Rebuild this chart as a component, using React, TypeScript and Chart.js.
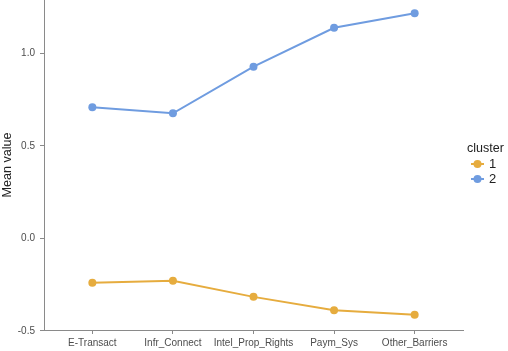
import React, { useEffect, useRef } from "react";
import { Chart, registerables } from "chart.js";

Chart.register(...registerables);

const categories = ["E-Transact", "Infr_Connect", "Intel_Prop_Rights", "Paym_Sys", "Other_Barriers"];
const cluster1 = [-0.24, -0.229, -0.316, -0.388, -0.413];
const cluster2 = [0.708, 0.676, 0.928, 1.138, 1.216];
const yTicks = [-0.5, 0.0, 0.5, 1.0];
const yTickLabels = ["-0.5", "0.0", "0.5", "1.0"];
const seriesNames = ["1", "2"];
const colors = ["#E6AC3E", "#6F9CE0"];

const FONT = "'Liberation Sans', Arial, sans-serif";

const legendPlugin = {
  id: "customLegend",
  afterDraw(chart: any) {
    const ctx = chart.ctx;
    ctx.save();
    ctx.font = `12.5px ${FONT}`;
    ctx.fillStyle = "#222";
    ctx.textBaseline = "middle";
    ctx.textAlign = "left";
    ctx.fillText("cluster", 467, 149);
    seriesNames.forEach((name, i) => {
      const y = 164 + i * 15;
      ctx.strokeStyle = colors[i];
      ctx.lineWidth = 2;
      ctx.beginPath();
      ctx.moveTo(471, y);
      ctx.lineTo(484, y);
      ctx.stroke();
      ctx.fillStyle = colors[i];
      ctx.beginPath();
      ctx.arc(477.5, y, 4, 0, Math.PI * 2);
      ctx.fill();
      ctx.fillStyle = "#222";
      ctx.font = `13px ${FONT}`;
      ctx.fillText(name, 489, y);
    });
    ctx.restore();
  },
};

export default function App() {
  const ref = useRef<HTMLCanvasElement | null>(null);
  useEffect(() => {
    if (!ref.current) return;
    const makeData = (vals: number[]) => vals.map((v, i) => ({ x: i, y: v }));
    const chart = new Chart(ref.current, {
      type: "line",
      data: {
        datasets: [cluster1, cluster2].map((vals, i) => ({
          label: seriesNames[i],
          data: makeData(vals),
          borderColor: colors[i],
          backgroundColor: colors[i],
          pointBackgroundColor: colors[i],
          pointBorderColor: colors[i],
          pointRadius: 4,
          pointBorderWidth: 0,
          borderWidth: 2,
          tension: 0,
          fill: false,
        })),
      },
      plugins: [legendPlugin],
      options: {
        animation: false,
        responsive: false,
        maintainAspectRatio: false,
        layout: { autoPadding: false, padding: { top: 0, right: 45, bottom: 0, left: 0 } },
        plugins: {
          legend: { display: false },
          tooltip: { enabled: false },
        },
        scales: {
          x: {
            type: "linear",
            min: -0.6,
            max: 4.6,
            afterBuildTicks: (scale: any) => {
              scale.ticks = categories.map((_, i) => ({ value: i }));
            },
            afterFit: (scale: any) => {
              scale.height = 21;
              scale.paddingLeft = 0;
              scale.paddingRight = 0;
            },
            ticks: {
              autoSkip: false,
              maxRotation: 0,
              padding: 3,
              color: "#4D4D4D",
              font: { family: FONT, size: 10 },
              callback: (v: any) => categories[Math.round(Number(v))] ?? "",
            },
            grid: { drawOnChartArea: false, drawTicks: true, tickLength: 4, color: "#8a8a8a" },
            border: { display: true, color: "#8a8a8a", width: 1 },
          },
          y: {
            type: "linear",
            min: -0.495,
            max: 1.288,
            afterBuildTicks: (scale: any) => {
              scale.ticks = yTicks.map((v) => ({ value: v }));
            },
            afterFit: (scale: any) => {
              scale.width = 44;
              scale.paddingTop = 0;
              scale.paddingBottom = 0;
            },
            ticks: {
              padding: 5,
              color: "#4D4D4D",
              font: { family: FONT, size: 10 },
              callback: (v: any) => {
                const idx = yTicks.findIndex((t) => Math.abs(t - Number(v)) < 1e-6);
                return idx >= 0 ? yTickLabels[idx] : "";
              },
            },
            title: {
              display: true,
              text: "Mean value",
              color: "#222",
              padding: 0,
              font: { family: FONT, size: 12.6, lineHeight: 1.2 },
            },
            grid: { drawOnChartArea: false, drawTicks: true, tickLength: 4, color: "#8a8a8a" },
            border: { display: true, color: "#8a8a8a", width: 1 },
          },
        },
      },
    } as any);
    return () => chart.destroy();
  }, []);
  return (
    <div style={{ position: "absolute", left: 0, top: 0, width: 508, height: 351, background: "#fff" }}>
      <canvas ref={ref} width={508} height={351} style={{ width: 508, height: 351 }} />
    </div>
  );
}
